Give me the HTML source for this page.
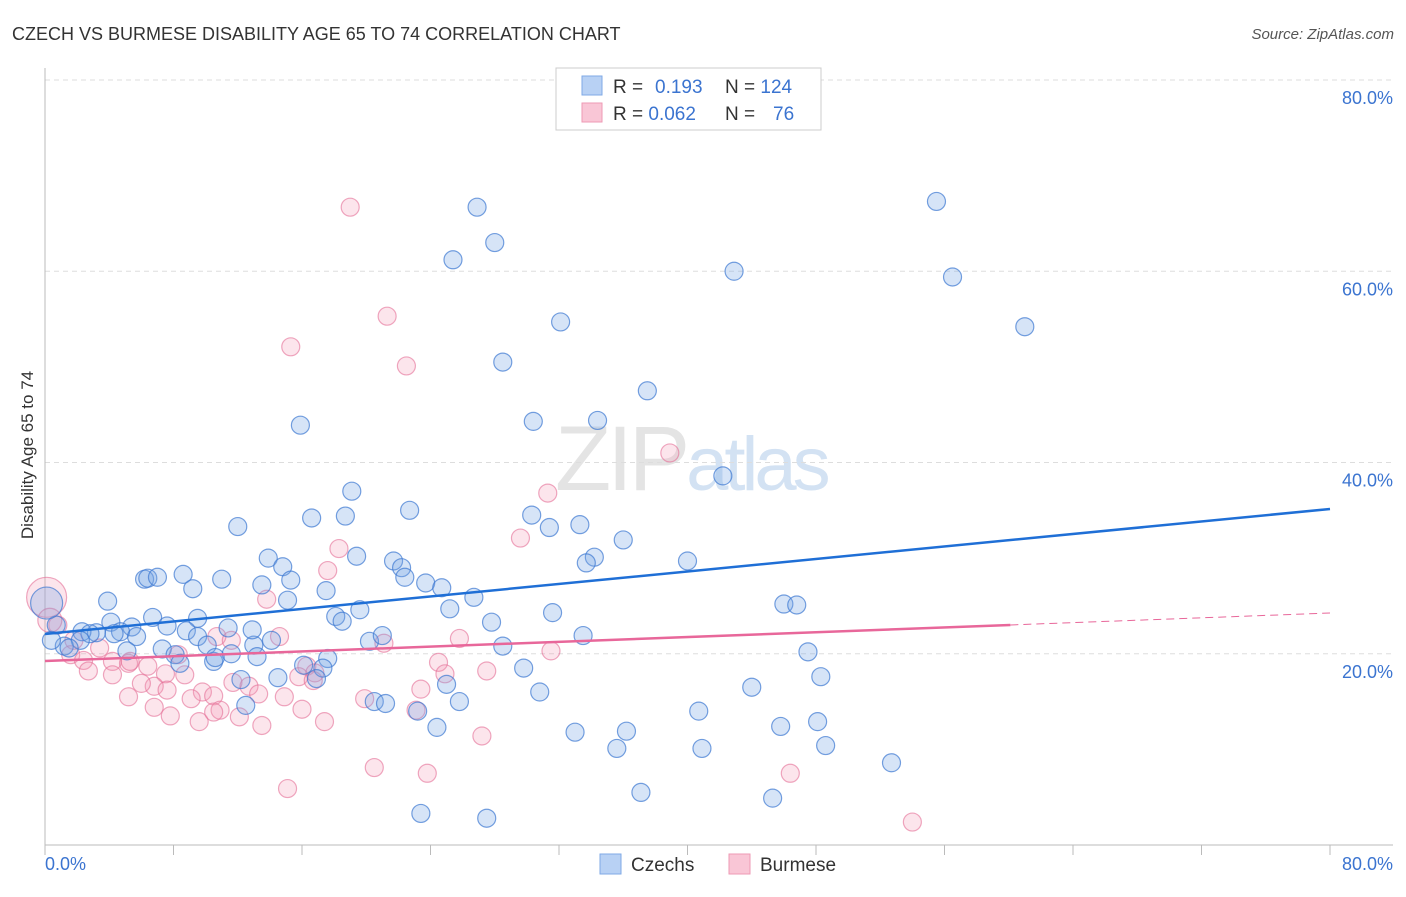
<!DOCTYPE html>
<html><head><meta charset="utf-8"><style>
body{margin:0;background:#fff;font-family:"Liberation Sans",sans-serif;}
svg text{font-family:"Liberation Sans",sans-serif;}
</style></head><body>
<svg id="chart" width="1406" height="892" xmlns="http://www.w3.org/2000/svg">
<text x="12" y="40" font-size="18" fill="#333">CZECH VS BURMESE DISABILITY AGE 65 TO 74 CORRELATION CHART</text>
<text x="1394" y="39" font-size="15" fill="#555" font-style="italic" text-anchor="end">Source: ZipAtlas.com</text>
<text x="555" y="490" font-size="92" fill="#e4e4e4" font-family="Liberation Serif" letter-spacing="-4">ZIP<tspan fill="#d3e2f3" font-family="Liberation Sans" font-size="76">atlas</tspan></text>
<text transform="translate(33,455) rotate(-90)" font-size="17" fill="#333" text-anchor="middle">Disability Age 65 to 74</text>
<g id="grid"></g>
<g id="axes"></g>
<g id="pts"></g>
<g id="lines"></g>
<g>
<rect x="556" y="68" width="265" height="62" fill="#fff" stroke="#ccc"/>
<rect x="582" y="76" width="20" height="19" fill="#b8d1f4" stroke="#7fa9e6"/>
<rect x="582" y="103" width="20" height="19" fill="#f9c6d6" stroke="#ee9ab4"/>
<text x="613" y="93" font-size="19" fill="#333">R = <tspan fill="#3b74d0" x="655">0.193</tspan><tspan x="725" fill="#333">N = </tspan><tspan fill="#3b74d0">124</tspan></text>
<text x="613" y="120" font-size="19" fill="#333">R = <tspan fill="#3b74d0">0.062</tspan><tspan x="725" fill="#333">N = </tspan><tspan fill="#3b74d0" x="773">76</tspan></text>
</g>
<g>
<rect x="600" y="854" width="21" height="20" fill="#b8d1f4" stroke="#7fa9e6"/>
<text x="631" y="871" font-size="19" fill="#333">Czechs</text>
<rect x="729" y="854" width="21" height="20" fill="#f9c6d6" stroke="#ee9ab4"/>
<text x="760" y="871" font-size="19" fill="#333">Burmese</text>
</g>
</svg>
<script>
const yTicks=[20,40,60,80];
const yTickLabels=["20.0%","40.0%","60.0%","80.0%"];
const xTickLabels=["0.0%","80.0%"];
const czechX=[26.9,55.5,25.4,28.0,42.9,56.5,61.0,32.1,28.5,37.5,30.4,34.4,15.9,42.2,19.1,12.0,16.6,18.7,22.7,30.3,31.4,33.3,36.0,34.2,33.7,40.0,13.9,14.8,19.4,21.7,22.2,22.4,15.3,17.5,23.7,24.7,26.7,8.6,6.2,6.4,7.0,11.0,13.5,9.2,15.1,3.9,6.7,9.5,7.6,8.8,11.4,18.1,19.6,18.5,25.2,27.8,31.6,46.0,46.8,4.1,5.4,3.2,4.7,5.7,0.7,2.3,2.8,4.3,2.2,1.2,1.5,0.4,7.3,9.5,10.1,10.5,10.6,11.6,13.0,13.2,14.1,12.9,20.2,21.0,28.5,33.5,47.5,5.1,8.1,8.4,16.1,17.6,17.3,16.9,14.5,12.2,29.8,25.0,30.8,44.0,48.3,12.5,20.5,21.2,23.2,25.8,40.7,24.4,33.0,36.2,45.8,48.1,35.6,40.9,48.6,52.7,37.1,45.3,23.4,27.5,0.1];
const czechY=[66.7,67.3,61.2,63.0,60.0,59.4,54.2,54.7,50.5,47.5,44.3,44.4,43.9,38.6,37.0,33.3,34.2,34.4,35.0,34.5,33.2,33.5,31.9,30.1,29.5,29.7,30.0,29.1,30.2,29.7,29.0,28.0,27.7,26.6,27.4,26.9,25.9,28.3,27.8,27.9,28.0,27.8,27.2,26.8,25.6,25.5,23.8,23.7,22.9,22.4,22.7,23.9,24.6,23.4,24.7,23.3,24.3,25.2,25.1,23.3,22.8,22.2,22.3,21.8,23.0,22.3,22.1,22.1,21.4,20.8,20.6,21.4,20.5,21.8,20.9,19.2,19.6,20.0,20.9,19.7,21.4,22.5,21.3,21.9,20.8,21.9,20.2,20.3,19.9,19.0,18.8,19.5,18.5,17.4,17.5,17.3,18.5,16.8,16.0,16.5,17.6,14.6,15.0,14.8,14.0,15.0,14.0,12.3,11.8,11.9,12.4,12.9,10.1,10.1,10.4,8.6,5.5,4.9,3.3,2.8,25.3];
const czechSize=czechX.map((_,i)=>i===czechX.length-1?16:9);
const burmeseX=[19.0,21.3,15.3,22.5,38.9,31.3,29.6,18.3,17.6,13.8,0.8,1.8,1.6,2.4,2.7,3.4,4.2,5.2,6.4,7.5,8.7,10.7,11.6,14.6,16.3,16.8,8.3,11.7,12.7,9.8,10.5,9.1,10.9,12.1,13.3,14.9,15.8,16.7,19.9,23.4,24.5,24.9,25.8,27.5,31.5,21.1,5.2,6.8,7.6,4.2,6.0,6.8,7.8,9.6,10.5,13.5,16.0,17.4,23.1,27.2,20.5,23.8,46.4,15.1,54.0,5.3,0.1,0.3];
const burmeseY=[66.7,55.3,52.1,50.1,41.0,36.8,32.1,31.0,28.7,25.7,23.0,21.4,19.9,19.3,18.2,20.6,19.2,19.0,18.7,17.9,17.8,21.8,21.4,21.8,18.7,18.0,19.9,17.0,16.6,16.0,15.6,15.3,14.1,13.4,15.8,15.5,17.6,17.2,15.3,16.3,19.1,17.9,21.6,18.2,20.3,21.1,15.5,16.6,16.2,17.8,16.9,14.4,13.5,12.9,13.9,12.5,14.2,12.9,14.1,11.4,8.1,7.5,7.5,5.9,2.4,19.2,25.9,23.5];
const burmeseSize=burmeseX.map((_,i)=>i===burmeseX.length-2?20:(i===burmeseX.length-1?12:9));
const czechTrend=[22.07,35.14];
const burmeseTrend=[19.24,24.26];
const burmeseSolidEnd=60.1;

const NS="http://www.w3.org/2000/svg";
const X0=45,X1=1330,Y0=845,Y80=80;
const sx=v=>X0+(v/80)*(X1-X0);
const sy=v=>Y0-(v/80)*(Y0-Y80);
function mk(tag,attrs,parent){const e=document.createElementNS(NS,tag);for(const k in attrs)e.setAttribute(k,attrs[k]);parent.appendChild(e);return e;}
const grid=document.getElementById('grid'),axes=document.getElementById('axes'),pts=document.getElementById('pts'),lines=document.getElementById('lines');
yTicks.forEach((t,i)=>{
  const l=mk('line',{x1:X0,x2:1393,y1:sy(t),y2:sy(t),stroke:'#ddd','stroke-dasharray':'5,4'},grid);
  
  
  const tx=mk('text',{x:1393,y:sy(t)+24,'font-size':18,fill:'#3b74d0','text-anchor':'end'},axes);
  tx.textContent=yTickLabels[i];
  
  
});
const ax=mk('line',{x1:X0,x2:1393,y1:Y0,y2:Y0,stroke:'#bbb'},axes);


const ay=mk('line',{x1:X0,x2:X0,y1:68,y2:Y0,stroke:'#bbb'},axes);


for(let k=0;k<=10;k++){
  const t=mk('line',{x1:sx(k*8),x2:sx(k*8),y1:Y0,y2:Y0+10,stroke:'#bbb'},axes);
  
  
}
const xl0=mk('text',{x:45,y:870,'font-size':18,fill:'#3b74d0'},axes);xl0.textContent=xTickLabels[0];


const xl1=mk('text',{x:1393,y:870,'font-size':18,fill:'#3b74d0','text-anchor':'end'},axes);xl1.textContent=xTickLabels[1];


burmeseX.forEach((v,i)=>{
  const c=mk('circle',{cx:sx(v),cy:sy(burmeseY[i]),r:burmeseSize[i],fill:'rgba(244,150,180,0.25)',stroke:'rgba(228,110,150,0.6)','stroke-width':1.2},pts);
  
  
});
czechX.forEach((v,i)=>{
  const c=mk('circle',{cx:sx(v),cy:sy(czechY[i]),r:czechSize[i],fill:'rgba(120,165,230,0.3)',stroke:'rgba(60,120,210,0.7)','stroke-width':1.2},pts);
  
  
});
const bl=mk('line',{x1:sx(0),y1:sy(czechTrend[0]),x2:sx(80),y2:sy(czechTrend[1]),stroke:'#1f6fd6','stroke-width':2.5},lines);


const pAt=x=>burmeseTrend[0]+(burmeseTrend[1]-burmeseTrend[0])*x/80;
const pl=mk('line',{x1:sx(0),y1:sy(pAt(0)),x2:sx(burmeseSolidEnd),y2:sy(pAt(burmeseSolidEnd)),stroke:'#e8679a','stroke-width':2.5},lines);


const pd=mk('line',{x1:sx(burmeseSolidEnd),y1:sy(pAt(burmeseSolidEnd)),x2:sx(80),y2:sy(pAt(80)),stroke:'#e8679a','stroke-width':1,'stroke-dasharray':'8,5'},lines);


</script>
</body></html>
